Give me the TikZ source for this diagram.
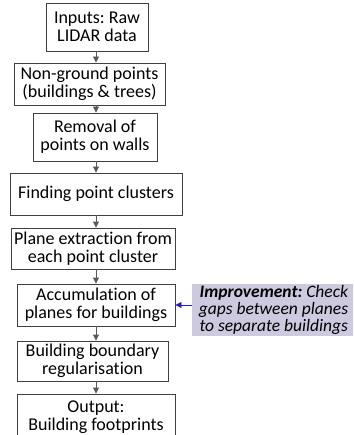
\documentclass[tikz,border=0pt]{standalone}
\usepackage{fontspec}
\setmainfont{Carlito}[Ligatures=NoCommon]
\frenchspacing
\usetikzlibrary{arrows.meta}

\definecolor{boxline}{HTML}{404040}
\definecolor{flowgray}{HTML}{595959}
\definecolor{lavender}{HTML}{CDC9DF}
\definecolor{noteblue}{HTML}{1F1FD0}

\tikzset{
    stepbox/.style = {draw=boxline, line width=0.9pt, fill=white, align=center,
                      inner sep=0pt, font=\fontsize{18}{18}\selectfont},
    flow/.style = {draw=flowgray, line width=0.9pt, -{Triangle[length=6pt,width=6pt]}},
    notebox/.style = {fill=lavender, align=right, inner sep=0pt,
                      font=\fontsize{17.5}{16.8}\selectfont\itshape},
}

\begin{document}
\begin{tikzpicture}[x = 1pt, y = -1pt]

    \useasboundingbox (0,0) rectangle (353,435);
    \clip (0,0) rectangle (353,435);

    \coordinate (spine) at (96,0);

    % the processing steps
    \node[stepbox, minimum width=102pt, minimum height=48pt] (raw)     at (97,27)    {Inputs: Raw\\LIDAR data};
    \node[stepbox, minimum width=151pt, minimum height=42pt] (nonground) at (89.5,84) {Non-ground points\\(buildings \& trees)};
    \node[stepbox, minimum width=124pt, minimum height=48pt] (walls)   at (95,137)   {Removal of\\points on walls};
    \node[stepbox, minimum width=172pt, minimum height=42pt] (clusters) at (96,194)  {Finding point clusters};
    \node[stepbox, minimum width=164pt, minimum height=41pt] (planes)  at (93,248.5) {Plane extraction from\\each point cluster};
    \node[stepbox, minimum width=158pt, minimum height=42pt] (accum)   at (96,305)   {Accumulation of\\planes for buildings};
    \node[stepbox, minimum width=151pt, minimum height=40pt] (regular) at (92.5,361) {Building boundary\\regularisation};
    \node[stepbox, minimum width=158pt, minimum height=46pt] (output)  at (96,417)   {Output:\\Building footprints};

    \draw[flow] (raw.south -| spine)       -- (nonground.north -| spine);
    \draw[flow] (nonground.south -| spine) -- (walls.north -| spine);
    \draw[flow] (walls.south -| spine)     -- (clusters.north -| spine);
    \draw[flow] (clusters.south -| spine)  -- (planes.north -| spine);
    \draw[flow] (planes.south -| spine)    -- (accum.north -| spine);
    \draw[flow] (accum.south -| spine)     -- (regular.north -| spine);
    \draw[flow] (regular.south -| spine)   -- (output.north -| spine);

    % the proposed change
    \node[notebox, minimum width=163pt, minimum height=52pt] (improve) at (273.5,310)
        {\textbf{Improvement:} Check\\gaps between planes\\to separate buildings};

    \draw[draw=noteblue, line width=0.9pt, -{Triangle[length=6pt,width=6pt]}]
        (improve.west |- accum.east) -- (accum.east);

\end{tikzpicture}
\end{document}
